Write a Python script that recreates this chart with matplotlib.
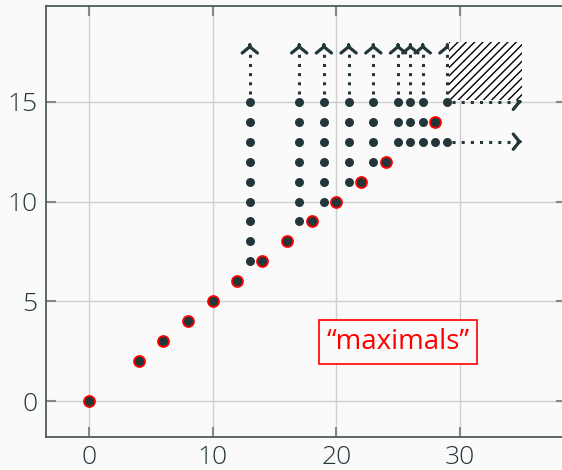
import matplotlib
matplotlib.use('Agg')
import matplotlib.pyplot as plt
from matplotlib.patches import Rectangle

DARK = '#23373b'
BG = '#fafafa'

# red-outlined points (the "maximals")
max_x = [0, 4, 6, 8, 10, 12, 14, 16, 18, 20, 22, 24, 28]
max_y = [0, 2, 3, 4, 5, 6, 7, 8, 9, 10, 11, 12, 14]

# dark points, listed column by column: (x, lowest y, highest y)
col_x = [13, 17, 19, 21, 23, 25, 26, 27]
col_lo = [7, 9, 10, 11, 12, 13, 13, 13]
col_hi = [15, 15, 15, 15, 15, 15, 15, 15]
extra_x = [28, 29, 29]
extra_y = [13, 13, 15]

# dotted arrows going up from these columns, and right from these rows
up_x = [13, 17, 19, 21, 23, 25, 26, 27, 29]
right_y = [15, 13]
arrow_top = 18
arrow_right = 35
start_x = 29

# hatched region
hatch_x0, hatch_y0, hatch_x1, hatch_y1 = 29, 15, 35, 18

xticks = [0, 10, 20, 30]
yticks = [0, 5, 10, 15]

plt.rcParams['font.family'] = ['Open Sans', 'DejaVu Sans']
plt.rcParams['font.weight'] = 'light'
plt.rcParams['hatch.linewidth'] = 1.0

fig = plt.figure(figsize=(5.62, 4.70), dpi=100)
fig.patch.set_facecolor(BG)
ax = fig.add_axes([46 / 562, 33 / 470, 520 / 562, 431 / 470])
ax.set_facecolor(BG)

xs, ys = [], []
for cx, lo, hi in zip(col_x, col_lo, col_hi):
    for yy in range(lo, hi + 1):
        xs.append(cx)
        ys.append(yy)
xs += extra_x
ys += extra_y

dots = dict(linestyle=(0, (1, 2)), lw=2.2, color=DARK, zorder=2)
head = dict(arrowstyle='->,head_length=0.45,head_width=0.55', lw=2.3, color=DARK)
for ux in up_x:
    ax.plot([ux, ux], [15.4, arrow_top - 0.15], **dots)
    ax.annotate('', xy=(ux, arrow_top), xytext=(ux, arrow_top - 0.3),
                arrowprops=head, zorder=2)
for ry in right_y:
    ax.plot([start_x + 0.4, arrow_right - 0.15], [ry, ry], **dots)
    ax.annotate('', xy=(arrow_right, ry), xytext=(arrow_right - 0.4, ry),
                arrowprops=head, zorder=2)

ax.add_patch(Rectangle((hatch_x0 + 0.1, hatch_y0 + 0.08),
                       hatch_x1 - hatch_x0 - 0.1, hatch_y1 - hatch_y0 - 0.08,
                       facecolor='white', edgecolor='black', hatch='////',
                       lw=0, zorder=3))

ax.scatter(xs, ys, s=42, color=DARK, zorder=4, linewidths=0)
ax.scatter(max_x, max_y, s=62, color=DARK, edgecolors='red', linewidths=1.3, zorder=5)

ax.text(25, 2.95, '\u201cmaximals\u201d', color='red', fontsize=20, fontweight='normal',
        ha='center', va='center',
        bbox=dict(boxstyle='square,pad=0.28', facecolor=BG, edgecolor='red', lw=1.2),
        zorder=6)

ax.set_xlim(-3.5, 38.6)
ax.set_ylim(-1.8, 19.8)
ax.set_xticks(xticks)
ax.set_yticks(yticks)
ax.grid(True, color='#cfcfcf', lw=1.0, zorder=0)
ax.set_axisbelow(True)
ax.tick_params(direction='in', length=7, width=1.5, color='#888888',
               labelsize=19, labelcolor=DARK, right=True, top=True, pad=6)
for s in ax.spines.values():
    s.set_color('#4f5b5e')
    s.set_linewidth(1.3)

fig.savefig('out.png', dpi=100, facecolor=BG)
